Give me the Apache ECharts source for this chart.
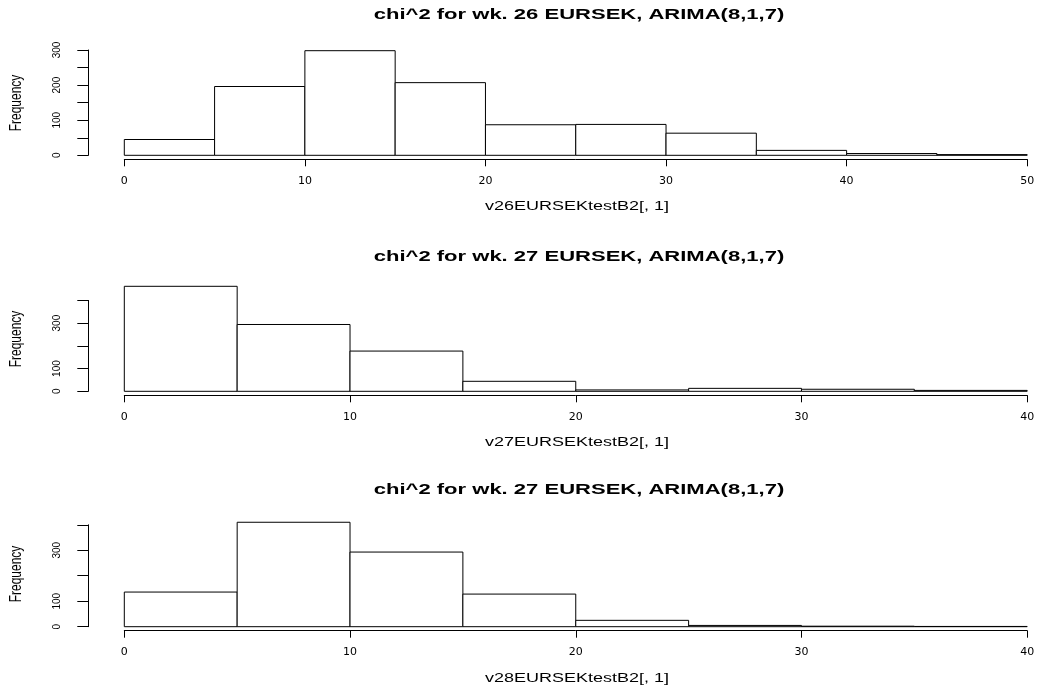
<!DOCTYPE html>
<html>
<head>
<meta charset="utf-8">
<script src="https://cdn.jsdelivr.net/npm/echarts@6/dist/echarts.min.js"></script>
<style>
  html, body { margin: 0; padding: 0; background: #fff; }
  #chart { width: 1051px; height: 689px; }
</style>
</head>
<body>
<div id="chart"></div>
<script>
// ---- data ----
const titles = [
  'chi^2 for wk. 26 EURSEK, ARIMA(8,1,7)',
  'chi^2 for wk. 27 EURSEK, ARIMA(8,1,7)',
  'chi^2 for wk. 27 EURSEK, ARIMA(8,1,7)'
];
const xNames = ['v26EURSEKtestB2[, 1]', 'v27EURSEKtestB2[, 1]', 'v28EURSEKtestB2[, 1]'];
const yName = 'Frequency';

const edges26 = [0, 5, 10, 15, 20, 25, 30, 35, 40, 45, 50];
const counts26 = [45, 196, 298, 207, 87, 88, 63, 14, 5, 2];

const edges27 = [0, 5, 10, 15, 20, 25, 30, 35, 40];
const counts27 = [462, 294, 177, 44, 6, 13, 9, 4];

const edges28 = [0, 5, 10, 15, 20, 25, 30, 35, 40];
const counts28 = [136, 410, 293, 128, 25, 5, 2, 1];

const xMax = [50, 40, 40];
const yMax = [300, 400, 400];
const yInterval = [50, 100, 100];
const yLabelsShown = [[0, 100, 200, 300], [0, 100, 300], [0, 100, 300]];

// ---- layout ----
const panels = [
  { top: 50, height: 105.3, titleY: 15, nameY: 207, freqY: 103 },
  { top: 300.4, height: 90.9, titleY: 257, nameY: 443, freqY: 339 },
  { top: 524.8, height: 101.9, titleY: 490, nameY: 679, freqY: 574 }
];
const gridLeft = 124.3, gridRight = 23.8;
const centerX = 577;

function histData(edges, counts) {
  return counts.map((c, i) => [edges[i], edges[i + 1], c]);
}
const datasets = [histData(edges26, counts26), histData(edges27, counts27), histData(edges28, counts28)];

function renderHistBar(params, api) {
  const x0 = api.value(0), x1 = api.value(1), c = api.value(2);
  const p0 = api.coord([x0, c]);
  const p1 = api.coord([x1, 0]);
  return {
    type: 'rect',
    shape: { x: p0[0], y: p0[1], width: p1[0] - p0[0], height: p1[1] - p0[1] },
    style: { fill: '#ffffff', stroke: '#000000', lineWidth: 1 }
  };
}

const grids = [], xAxes = [], yAxes = [], series = [], graphics = [];
panels.forEach((p, i) => {
  grids.push({ left: gridLeft, right: gridRight, top: p.top, height: p.height, containLabel: false });
  xAxes.push({
    type: 'value', gridIndex: i, min: 0, max: xMax[i], interval: 10,
    offset: 4,
    axisLine: { show: true, onZero: false, lineStyle: { color: '#000', width: 1 } },
    axisTick: { show: true, length: 7, lineStyle: { color: '#000', width: 1 } },
    axisLabel: { show: true, color: '#000', fontSize: 11, fontFamily: 'DejaVu Sans', margin: 16 },
    splitLine: { show: false }
  });
  const shown = yLabelsShown[i];
  yAxes.push({
    type: 'value', gridIndex: i, min: 0, max: yMax[i], interval: yInterval[i],
    offset: 36,
    axisLine: { show: true, onZero: false, lineStyle: { color: '#000', width: 1 } },
    axisTick: { show: true, length: 11, lineStyle: { color: '#000', width: 1 } },
    axisLabel: {
      show: true, rotate: 90, color: '#000', fontSize: 10, fontFamily: 'Liberation Sans', margin: 26,
      formatter: v => shown.indexOf(v) >= 0 ? String(v) : ''
    },
    splitLine: { show: false }
  });
  series.push({
    type: 'custom', xAxisIndex: i, yAxisIndex: i, clip: false,
    renderItem: renderHistBar,
    encode: { x: [0, 1], y: 2 },
    data: datasets[i],
    silent: true
  });
  graphics.push({
    type: 'text', x: centerX + 2, y: p.titleY, scaleX: 1.53,
    style: { text: titles[i], font: 'bold 14.4px "Liberation Sans", Arial, sans-serif', fill: '#000', textAlign: 'center', textVerticalAlign: 'middle' }
  });
  graphics.push({
    type: 'text', x: centerX, y: p.nameY, scaleX: 1.5,
    style: { text: xNames[i], font: '12px "Liberation Sans", Arial, sans-serif', fill: '#000', textAlign: 'center', textVerticalAlign: 'middle' }
  });
  graphics.push({
    type: 'text', x: 17, y: p.freqY, rotation: Math.PI / 2, scaleY: 1.3,
    style: { text: yName, font: '12px "Liberation Sans", Arial, sans-serif', fill: '#000', textAlign: 'center', textVerticalAlign: 'middle' }
  });
});

const chart = echarts.init(document.getElementById('chart'), null, { renderer: 'canvas' });
chart.setOption({
  backgroundColor: '#ffffff',
  animation: false,
  grid: grids,
  xAxis: xAxes,
  yAxis: yAxes,
  series: series,
  graphic: graphics
});
</script>
</body>
</html>
